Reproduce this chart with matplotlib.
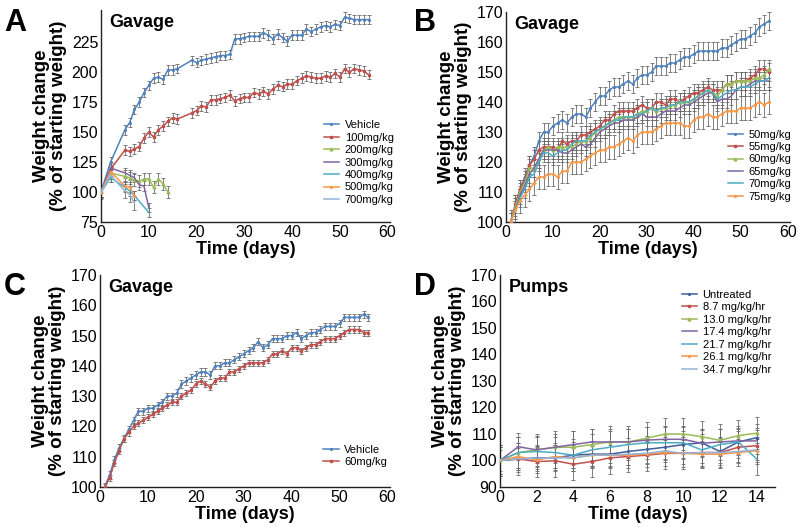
import matplotlib
matplotlib.use("Agg")
import matplotlib.pyplot as plt

plt.rcParams['font.family'] = ['Liberation Sans', 'DejaVu Sans']

# colours (Excel-like palette)
BLUE = '#4f81bd'
RED = '#c0504d'
GREEN = '#9bbb59'
PURPLE = '#8064a2'
CYAN = '#4bacc6'
ORANGE = '#f79646'
LIGHTBLUE = '#95b3d7'
NAVY = '#3f5f9f'

# ---------------- Panel A data ----------------
a_days_long = [0, 2, 5, 6, 7, 8, 9, 10, 11, 12, 13, 14, 15, 16,
               19, 20, 21, 22, 23, 24, 25, 26, 27, 28, 29, 30, 31, 32, 33, 34, 35,
               36, 37, 38, 39, 40, 41, 42, 43, 44, 45, 46, 47, 48, 49, 50,
               51, 52, 53, 54, 55, 56]
a_vehicle = [100, 125, 152, 158, 169, 175, 183, 189, 195, 196, 194, 202, 202, 203,
             210, 208, 210, 211, 212, 213, 214, 214, 215, 228, 228, 229, 230, 230, 230, 233, 231,
             228, 232, 229, 226, 231, 231, 231, 236, 234, 236, 238, 239, 238, 240, 239,
             246, 245, 244, 244, 244, 244]
a_100 = [100, 119, 135, 134, 136, 138, 145, 150, 146, 152, 155, 159, 162, 161,
         166, 168, 172, 171, 177, 177, 178, 179, 181, 176, 178, 179, 179, 183, 182, 184, 182,
         186, 189, 188, 190, 190, 193, 195, 197, 196, 195, 195, 197, 196, 199, 196,
         203, 200, 203, 202, 201, 198]
a_200_days = [0, 2, 5, 6, 7, 8, 9, 10, 11, 12, 13, 14]
a_200 = [100, 116, 113, 112, 110, 109, 111, 111, 104, 111, 107, 100]
a_300_days = [0, 2, 5, 6, 7, 8, 9, 10]
a_300 = [100, 120, 116, 114, 112, 106, 105, 87]
a_400_days = [0, 2, 5, 6, 7, 10]
a_400 = [100, 112, 104, 101, 97, 83]
a_500_days = [0, 2, 5, 6, 7]
a_500 = [100, 117, 105, 104, 97]
a_700_days = [0, 2, 5, 6, 7]
a_700 = [100, 114, 101, 98, 91]
a_err = {'Vehicle': 4, '100mg/kg': 4, '200mg/kg': 5, '300mg/kg': 4,
         '400mg/kg': 4, '500mg/kg': 4, '700mg/kg': 6}

# ---------------- Panel B data ----------------
b_days = list(range(1, 57))
b_50 = [100, 106, 111, 115, 119, 122, 127, 130, 130, 132, 133, 134, 133, 135, 136, 136,
        135, 138, 140, 142, 142, 144, 145, 145, 146, 147, 146, 148, 149, 149, 150, 152,
        152, 152, 153, 153, 154, 155, 155, 156, 157, 157, 157, 157, 157, 158, 158, 159,
        160, 161, 161, 162, 163, 165, 166, 167]
b_55 = [100, 106, 111, 114, 119, 121, 124, 125, 125, 125, 124, 127, 126, 127, 127, 129,
        129, 130, 131, 132, 134, 134, 136, 137, 137, 137, 137, 138, 139, 138, 138, 140,
        140, 139, 141, 141, 140, 141, 142, 143, 143, 144, 145, 144, 144, 144, 146, 146,
        147, 147, 147, 148, 149, 151, 151, 150]
b_60 = [100, 105, 110, 113, 118, 118, 121, 124, 125, 124, 125, 125, 125, 125, 126, 127,
        127, 128, 130, 131, 132, 133, 134, 135, 135, 135, 135, 136, 137, 137, 138, 137,
        138, 138, 139, 139, 140, 140, 140, 141, 142, 143, 144, 143, 142, 144, 146, 146,
        147, 147, 147, 147, 148, 148, 149, 151]
b_65 = [100, 104, 109, 112, 116, 118, 121, 124, 124, 124, 124, 123, 123, 124, 125, 126,
        125, 126, 128, 130, 131, 132, 133, 133, 134, 134, 134, 135, 136, 135, 135, 135,
        136, 137, 137, 137, 138, 139, 139, 140, 141, 142, 143, 143, 140, 141, 141, 142,
        144, 145, 145, 146, 147, 147, 147, 147]
b_70 = [100, 104, 108, 111, 115, 116, 120, 123, 123, 122, 123, 124, 124, 126, 127, 127,
        127, 129, 130, 131, 132, 133, 134, 134, 135, 135, 135, 136, 136, 137, 138, 137,
        138, 138, 139, 139, 140, 140, 140, 141, 142, 143, 144, 143, 141, 142, 143, 144,
        144, 145, 145, 145, 146, 147, 147, 148]
b_75 = [100, 104, 107, 109, 111, 113, 115, 115, 116, 116, 115, 117, 117, 120, 120, 120,
        121, 122, 123, 124, 124, 125, 125, 126, 127, 128, 127, 129, 130, 130, 130, 131,
        132, 133, 133, 133, 133, 132, 132, 134, 135, 135, 136, 135, 135, 136, 137, 137,
        137, 138, 138, 138, 139, 140, 139, 140]
b_err = {'50mg/kg': 3, '55mg/kg': 3, '60mg/kg': 3, '65mg/kg': 3,
         '70mg/kg': 3, '75mg/kg': 4}

# ---------------- Panel C data ----------------
c_days = list(range(1, 57))
c_vehicle = [100, 104, 109, 113, 116, 119, 122, 125, 125, 126, 126, 127, 128, 130, 130, 131,
             134, 135, 136, 137, 138, 138, 137, 140, 140, 141, 141, 142, 143, 144, 145, 146,
             148, 146, 147, 149, 149, 149, 150, 150, 151, 149, 150, 151, 151, 152, 153, 153,
             153, 154, 156, 156, 156, 156, 157, 156]
c_60 = [100, 103, 108, 112, 116, 118, 120, 121, 122, 123, 124, 125, 126, 127, 128, 128,
        130, 131, 132, 134, 135, 134, 133, 135, 136, 136, 138, 138, 139, 140, 141, 141,
        141, 141, 142, 144, 144, 145, 144, 146, 146, 145, 146, 147, 147, 148, 149, 149,
        149, 150, 151, 152, 152, 152, 151, 151]
c_err = {'Vehicle': 1.2, '60mg/kg': 1.0}

# ---------------- Panel D data ----------------
d_days = list(range(0, 15))
d_untreated = [100, 100.5, 101, 101, 102, 102.4, 102.4, 103.4, 104.2, 105, 106, 106.7, 103.4, 107, 108.6]
d_87 = [100, 100.6, 99.6, 99.9, 98.6, 99.6, 101, 101.5, 102, 102.7, 102.7, 103, 103, 105, 105.6]
d_130 = [100, 103, 104, 105, 105, 106, 107, 107, 108.4, 110, 110, 109, 107.6, 109.4, 110.3]
d_174 = [100, 105.2, 104, 105, 106, 107, 107, 107, 107.7, 108, 108, 106.5, 107, 107.4, 107.4]
d_217 = [100, 103, 103.4, 103, 102, 104, 105, 106, 106.7, 106.7, 106.7, 104, 106, 107, 100.6]
d_261 = [100, 101.5, 100.2, 101.5, 101, 102, 102, 102, 102.4, 103, 102.7, 102.4, 102.4, 103, 103.7]
d_347 = [100, 100.6, 100.9, 101, 101, 102, 102, 102.4, 102.7, 103.6, 102.7, 103, 103, 103.4, 104]
d_err = {'Untreated': 5, '8.7 mg/kg/hr': 6, '13.0 mg/kg/hr': 6, '17.4 mg/kg/hr': 5,
         '21.7 mg/kg/hr': 6, '26.1 mg/kg/hr': 5, '34.7 mg/kg/hr': 4}


def draw(ax, x, y, err, color, marker, label, ms=2):
    ax.errorbar(x, y, yerr=err, fmt='none', ecolor='#6a6a6a', elinewidth=0.6,
                capsize=1.3, capthick=0.6, zorder=2)
    ax.plot(x, y, color=color, lw=1.1, marker=marker, ms=ms, mec=color, label=label, zorder=3)


def style(ax, title, xlim, ylim, yticks, xticks):
    for s in ['top', 'right']:
        ax.spines[s].set_visible(False)
    for s in ['left', 'bottom']:
        ax.spines[s].set_linewidth(1.0)
        ax.spines[s].set_color('#222222')
    ax.set_xlim(*xlim)
    ax.set_ylim(*ylim)
    ax.set_yticks(yticks)
    ax.set_xticks(xticks)
    ax.tick_params(length=0, labelsize=11.5, pad=2)
    ax.set_xlabel('Time (days)', fontsize=13, fontweight='bold', labelpad=1)
    ax.set_ylabel('Weight change\n(% of starting weight)', fontsize=13.5, fontweight='bold',
                  labelpad=3, linespacing=1.0)
    ax.text(0.03, 0.98, title, transform=ax.transAxes, fontsize=13, fontweight='bold',
            va='top', ha='left')


def legend(ax, x, y):
    ax.legend(loc='upper left', bbox_to_anchor=(x, y), frameon=False, fontsize=8,
              handlelength=1.4, handletextpad=0.5, labelspacing=0.22,
              borderpad=0, borderaxespad=0)


fig = plt.figure(figsize=(8, 5.27), dpi=100)
W, H = 800, 527

def box(l, t, r, b):
    return [l / W, (H - b) / H, (r - l) / W, (b - t) / H]

axA = fig.add_axes(box(101, 10, 390, 222))
axB = fig.add_axes(box(506, 12, 790, 222))
axC = fig.add_axes(box(100, 275, 390, 487))
axD = fig.add_axes(box(500, 275, 775, 487))

# Panel A
draw(axA, a_days_long, a_vehicle, a_err['Vehicle'], BLUE, '.', 'Vehicle', 2.5)
draw(axA, a_days_long, a_100, a_err['100mg/kg'], RED, 's', '100mg/kg', 2)
draw(axA, a_200_days, a_200, a_err['200mg/kg'], GREEN, '^', '200mg/kg', 2)
draw(axA, a_300_days, a_300, a_err['300mg/kg'], PURPLE, None, '300mg/kg')
draw(axA, a_400_days, a_400, a_err['400mg/kg'], CYAN, None, '400mg/kg')
draw(axA, a_500_days, a_500, a_err['500mg/kg'], ORANGE, '.', '500mg/kg', 2.5)
draw(axA, a_700_days, a_700, a_err['700mg/kg'], LIGHTBLUE, None, '700mg/kg')
style(axA, 'Gavage', (0, 60.5), (75, 252), [75, 100, 125, 150, 175, 200, 225],
      [0, 10, 20, 30, 40, 50, 60])
legend(axA, 0.77, 0.48)

# Panel B
draw(axB, b_days, b_50, b_err['50mg/kg'], BLUE, '.', '50mg/kg', 2.5)
draw(axB, b_days, b_55, b_err['55mg/kg'], RED, 's', '55mg/kg', 2)
draw(axB, b_days, b_60, b_err['60mg/kg'], GREEN, '^', '60mg/kg', 2)
draw(axB, b_days, b_65, b_err['65mg/kg'], PURPLE, None, '65mg/kg')
draw(axB, b_days, b_70, b_err['70mg/kg'], CYAN, None, '70mg/kg')
draw(axB, b_days, b_75, b_err['75mg/kg'], ORANGE, '.', '75mg/kg', 2.5)
style(axB, 'Gavage', (0, 60.5), (100, 170), range(100, 171, 10),
      [0, 10, 20, 30, 40, 50, 60])
legend(axB, 0.78, 0.44)

# Panel C
draw(axC, c_days, c_vehicle, c_err['Vehicle'], BLUE, '.', 'Vehicle', 2.5)
draw(axC, c_days, c_60, c_err['60mg/kg'], RED, 's', '60mg/kg', 2)
style(axC, 'Gavage', (0, 60.5), (100, 170), range(100, 171, 10),
      [0, 10, 20, 30, 40, 50, 60])
legend(axC, 0.77, 0.2)

# Panel D
draw(axD, d_days, d_untreated, d_err['Untreated'], NAVY, '.', 'Untreated', 2.5)
draw(axD, d_days, d_87, d_err['8.7 mg/kg/hr'], RED, 's', '8.7 mg/kg/hr', 2)
draw(axD, d_days, d_130, d_err['13.0 mg/kg/hr'], GREEN, '^', '13.0 mg/kg/hr', 2)
draw(axD, d_days, d_174, d_err['17.4 mg/kg/hr'], PURPLE, None, '17.4 mg/kg/hr')
draw(axD, d_days, d_217, d_err['21.7 mg/kg/hr'], CYAN, None, '21.7 mg/kg/hr')
draw(axD, d_days, d_261, d_err['26.1 mg/kg/hr'], ORANGE, '.', '26.1 mg/kg/hr', 2.5)
draw(axD, d_days, d_347, d_err['34.7 mg/kg/hr'], LIGHTBLUE, None, '34.7 mg/kg/hr')
style(axD, 'Pumps', (0, 15), (90, 170), range(90, 171, 10), range(0, 15, 2))
legend(axD, 0.66, 0.93)

# panel letters
for letter, x, y in [('A', 4, 8), ('B', 414, 8), ('C', 4, 272), ('D', 414, 272)]:
    fig.text(x / W, 1 - y / H, letter, fontsize=22, fontweight='bold', va='top', ha='left')

fig.savefig('out.png', dpi=100)
